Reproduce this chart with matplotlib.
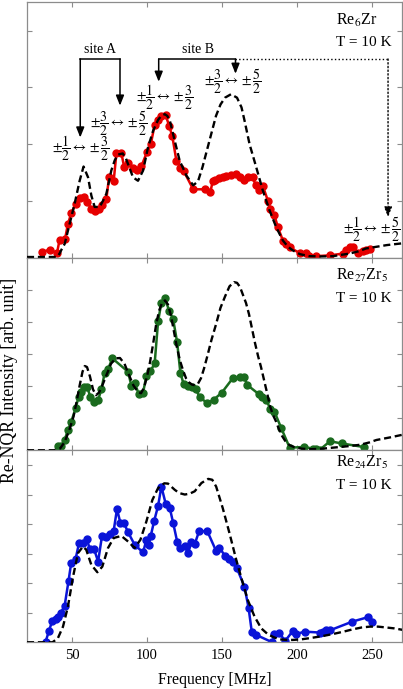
"""Re-NQR spectra of Re6Zr, Re27Zr5 and Re24Zr5 at 10 K, with simulated curves."""

import matplotlib
matplotlib.use("Agg")
import matplotlib.pyplot as plt

plt.rcParams["font.family"] = ["Liberation Serif", "DejaVu Serif"]
plt.rcParams["mathtext.fontset"] = "stix"

# ---- Re6Zr (top) ----
freq_re6 = [30.0, 35.0, 40.0, 41.7, 45.3, 47.3, 49.5, 52.4, 55.1, 57.7,
            60.2, 62.7, 65.1, 68.0, 70.2, 72.9, 74.7, 77.8, 79.6, 82.9,
            84.7, 87.4, 90.7, 93.6, 96.3, 100.1, 102.5, 105.1, 107.4, 109.6,
            112.5, 114.7, 116.9, 119.6, 122.3, 124.5, 130.8, 139.0, 142.3, 143.9,
            145.5, 147.9, 150.5, 152.8, 156.1, 159.5, 162.1, 164.6, 167.2, 170.6,
            172.4, 175.0, 177.2, 180.6, 182.2, 185.0, 187.3, 190.6, 192.9, 195.1,
            201.7, 206.2, 207.7, 212.9, 222.2, 230.6, 232.4, 235.1, 237.3, 240.7,
            244.0, 246.3, 248.5]
int_re6 = [0.105, 0.15, 0.09, 0.32, 0.33, 0.60, 0.79, 0.95, 1.06, 1.07,
           0.99, 0.87, 0.82, 0.87, 0.94, 1.04, 1.42, 1.36, 1.84, 1.85,
           1.61, 1.68, 1.59, 1.55, 1.62, 1.87, 2.00, 2.34, 2.42, 2.50,
           2.51, 2.33, 2.14, 1.71, 1.59, 1.53, 1.21, 1.21, 1.17, 1.36,
           1.38, 1.40, 1.42, 1.44, 1.46, 1.47, 1.42, 1.38, 1.42, 1.42,
           1.28, 1.20, 1.27, 1.01, 0.87, 0.75, 0.54, 0.31, 0.25, 0.19,
           0.09, 0.09, 0.03, 0.035, 0.05, 0.08, 0.135, 0.19, 0.19, 0.09,
           0.12, 0.15, 0.16]
sim_f_re6 = [20, 40, 41.7, 43, 45.1, 48.4, 51.7, 55.1, 57.7, 60.7,
             62.9, 65.1, 68.4, 70.5, 72.9, 76.2, 78.5, 80.7, 83.8, 86,
             87.4, 90.7, 94, 97.4, 100.7, 104.1, 107.4, 109.5, 111.8, 113.5,
             115.2, 118.5, 121.8, 126.3, 130.8, 134, 137, 140, 143, 146,
             149, 152, 156, 160, 163, 165, 168.4, 172.8, 177.2, 181.7,
             186.2, 190.6, 194, 197.3, 202, 208, 216, 224, 230, 235,
             241, 246, 253, 260, 270]
sim_i_re6 = [0.02, 0.02, 0.08, 0.15, 0.25, 0.6, 0.95, 1.36, 1.61, 1.42,
             1.1, 0.9, 0.9, 1.0, 1.13, 1.54, 1.72, 1.82, 1.84, 1.75,
             1.65, 1.42, 1.36, 1.54, 1.95, 2.24, 2.43, 2.5, 2.53, 2.5,
             2.42, 2.06, 1.71, 1.45, 1.28, 1.35, 1.6, 1.9, 2.2, 2.5,
             2.7, 2.82, 2.88, 2.82, 2.65, 2.42, 2.0, 1.6, 1.19, 0.84,
             0.54, 0.31, 0.2, 0.135, 0.07, 0.035, 0.03, 0.035, 0.06, 0.08,
             0.12, 0.17, 0.2, 0.23, 0.26]

# ---- Re27Zr5 (middle) ----
freq_re27 = [40.4, 42.7, 45.1, 47.3, 49.5, 52.4, 54.4, 55.8, 57.7, 60.0,
             62.2, 64.7, 67.4, 69.6, 71.8, 74.0, 76.9, 87.4, 89.6, 91.8,
             94.5, 97.4, 99.6, 102.3, 105.1, 107.4, 109.6, 112.1, 114.7, 117.4,
             120.1, 122.3, 124.5, 127.4, 130.1, 132.5, 135.2, 140.3, 144.5, 149.9,
             157.2, 162.1, 164.6, 166.8, 174.6, 176.8, 179.5, 182.2, 185.0, 189.5,
             195.1, 204.8, 210.6, 212.4, 215.1, 222.0, 230.0, 244.5]
int_re27 = [0.13, 0.12, 0.32, 0.63, 0.89, 1.31, 1.67, 1.83, 1.99, 1.99,
            1.67, 1.50, 1.57, 1.90, 2.42, 2.53, 2.87, 2.45, 2.01, 2.11,
            1.75, 1.80, 2.33, 2.47, 2.71, 4.03, 4.61, 4.74, 4.36, 4.10,
            3.37, 2.40, 2.06, 2.02, 1.96, 1.91, 1.65, 1.47, 1.58, 1.80,
            2.25, 2.30, 2.30, 2.04, 1.75, 1.67, 1.58, 1.29, 1.20, 0.69,
            0.08, 0.10, 0.05, 0.05, 0.01, 0.28, 0.21, 0.10]
sim_f_re27 = [20, 38, 42, 45, 48, 51, 53, 55, 57, 58.5,
              60, 62, 64, 66, 68, 70, 73, 76, 79, 82,
              85, 88, 91, 94, 96, 98, 100, 102, 104, 106,
              108, 110, 112, 114, 116, 118, 120, 122, 124, 126,
              128, 130, 132, 134, 136, 138, 140, 143, 146, 149,
              152, 155, 158, 160, 162, 164, 166, 168, 170, 172,
              174, 176, 178, 180, 182, 184, 186, 188, 190, 192,
              195, 198, 203, 208, 215, 224, 235, 242, 248, 253,
              262, 270]
sim_i_re27 = [0, 0, 0.05, 0.25, 0.6, 1.05, 1.5, 2.0, 2.45, 2.63,
              2.6, 2.3, 1.9, 1.72, 1.8, 2.0, 2.35, 2.7, 2.87, 2.88,
              2.7, 2.35, 2.02, 1.82, 1.78, 1.95, 2.3, 2.75, 3.3, 3.9,
              4.35, 4.6, 4.68, 4.55, 4.2, 3.7, 3.2, 2.8, 2.5, 2.25,
              2.12, 2.05, 2.03, 2.08, 2.25, 2.55, 2.9, 3.45, 3.93, 4.45,
              4.8, 5.12, 5.25, 5.23, 5.1, 4.85, 4.6, 4.25, 3.8, 3.35,
              2.95, 2.6, 2.2, 1.8, 1.38, 1.1, 0.9, 0.65, 0.45, 0.3,
              0.16, 0.1, 0.05, 0.03, 0.04, 0.08, 0.13, 0.17, 0.24, 0.32,
              0.4, 0.48]

# ---- Re24Zr5 (bottom) ----
freq_re24 = [32.4, 34.6, 36.8, 39.1, 40.5, 42.4, 45.1, 47.7, 49.5, 52.4,
             54.7, 57.3, 60.0, 61.8, 64.7, 67.4, 70.0, 72.9, 75.1, 77.8,
             80.0, 82.2, 84.7, 87.4, 91.8, 97.4, 99.6, 101.1, 102.5, 104.7,
             107.4, 109.6, 112.5, 115.2, 117.4, 120.1, 122.3, 125.2, 127.4, 129.6,
             131.8, 134.8, 140.3, 146.0, 148.2, 152.1, 155.0, 157.2, 159.9, 165.0,
             167.7, 169.9, 172.8, 183.5, 185.0, 187.7, 192.2, 197.3, 199.5, 205.1,
             215.1, 217.3, 219.6, 222.2, 236.9, 247.3, 250.0]
int_re24 = [0.02, 0.38, 0.72, 0.78, 0.85, 0.98, 1.24, 2.08, 2.70, 2.82,
            3.36, 3.36, 3.50, 3.15, 3.16, 2.73, 3.60, 3.56, 3.67, 3.78,
            4.51, 4.05, 4.03, 3.72, 3.30, 3.04, 3.47, 3.30, 3.60, 4.09,
            4.62, 5.27, 4.68, 4.54, 4.05, 3.41, 3.19, 3.27, 3.02, 3.38,
            3.32, 3.77, 3.75, 3.10, 3.19, 2.93, 2.82, 2.73, 2.51, 1.88,
            1.17, 0.34, 0.25, 0.0, 0.27, 0.33, 0.05, 0.39, 0.28, 0.36,
            0.33, 0.35, 0.41, 0.41, 0.70, 0.85, 0.68]
sim_f_re24 = [20, 37, 40.6, 44, 47.3, 50.7, 54, 57.3, 59.5, 62.9,
              66.9, 70.2, 74, 77.8, 82.9, 87.4, 91.8, 95.6, 99.6, 103.6,
              107.4, 111.5, 114, 118.5, 121.5, 125.2, 128.5, 131.8, 136.3, 140.8,
              143.5, 146.1, 150.5, 155, 159.5, 163.9, 167.2, 171.7, 176.2, 180.6,
              184.5, 188.4, 193, 197.3, 203, 208.4, 216, 224, 231, 237.3,
              243, 248.5, 254, 259.6, 265, 270.5]
sim_i_re24 = [0.0, 0.0, 0.14, 0.53, 1.21, 2.22, 3.02, 3.24, 3.13, 2.62,
              2.37, 2.56, 3.19, 3.53, 3.60, 3.41, 3.19, 3.47, 4.09, 4.82,
              5.22, 5.38, 5.37, 5.16, 5.05, 5.0, 5.03, 5.11, 5.39, 5.53,
              5.5, 5.27, 4.54, 3.69, 2.79, 2.0, 1.43, 0.87, 0.47, 0.27,
              0.17, 0.10, 0.08, 0.08, 0.1, 0.14, 0.2, 0.28, 0.36, 0.44,
              0.5, 0.53, 0.53, 0.50, 0.47, 0.42]

panels = [
    (freq_re6, int_re6, sim_f_re6, sim_i_re6, "#e60000", 4.5, [1, 2, 3, 4],
     "Re$_6$Zr", 0.910, 0.829),
    (freq_re27, int_re27, sim_f_re27, sim_i_re27, "#1a6b1e", 6.0, [1, 2, 3, 4, 5],
     "Re$_{27}$Zr$_5$", 0.885, 0.772),
    (freq_re24, int_re24, sim_f_re24, sim_i_re24, "#0a14d8", 6.5, [1, 2, 3, 4, 5, 6],
     "Re$_{24}$Zr$_5$", 0.911, 0.797),
]

FRAME = "#8c8c8c"

fig = plt.figure(figsize=(4.03, 6.89), dpi=100)
gs = fig.add_gridspec(3, 1, height_ratios=[4, 3, 3], hspace=0,
                      left=0.067, right=0.9975, top=0.997, bottom=0.0678)
axes = []
for i, (fx, iy, sx, sy, col, ytop, yt, name, yn, yT) in enumerate(panels):
    ax = fig.add_subplot(gs[i])
    ax.plot(fx, iy, "-o", color=col, lw=1.8, ms=5.0, zorder=2)
    ax.plot(sx, sy, color="k", lw=1.7, linestyle=(0, (3, 1.6)), zorder=3)
    ax.set_xlim(20, 270)
    ax.set_ylim(0, ytop)
    ax.set_xticks([50, 100, 150, 200, 250])
    ax.set_yticks(yt)
    ax.tick_params(direction="in", top=True, right=True, length=3.5, width=0.8,
                   color=FRAME, labelleft=False, labelbottom=(i == 2),
                   labelsize=10.5, pad=5)
    for sp in ax.spines.values():
        sp.set_color(FRAME)
        sp.set_linewidth(0.9)
    ax.text(0.824, yn, name, transform=ax.transAxes, fontsize=11.5, va="baseline")
    ax.text(0.824, yT, "T = 10 K", transform=ax.transAxes, fontsize=11, va="baseline")
    axes.append(ax)

axes[2].set_xlabel("Frequency [MHz]", fontsize=11.3, labelpad=7)
fig.text(0.024, 0.448, "Re-NQR Intensity [arb. unit]", rotation=90,
         fontsize=12.8, ha="center", va="center")

# ---- site annotations on top panel ----
ax = axes[0]
arr = dict(arrowstyle="-|>,head_length=0.55,head_width=0.22", color="k",
           lw=1.1, shrinkA=0, shrinkB=0, mutation_scale=11)
ax.plot([55.5, 82.0], [3.5, 3.5], color="k", lw=1.1)
ax.annotate("", xy=(55.5, 2.12), xytext=(55.5, 3.5), arrowprops=arr)
ax.annotate("", xy=(82.0, 2.68), xytext=(82.0, 3.5), arrowprops=arr)
ax.text(68.7, 3.55, "site A", ha="center", va="bottom", fontsize=10)

ax.plot([107.8, 159.0], [3.5, 3.5], color="k", lw=1.1)
ax.annotate("", xy=(107.8, 3.10), xytext=(107.8, 3.5), arrowprops=arr)
ax.annotate("", xy=(159.0, 3.24), xytext=(159.0, 3.5), arrowprops=arr)
ax.text(134.0, 3.55, "site B", ha="center", va="bottom", fontsize=10)

ax.plot([159.0, 260.7], [3.5, 3.5], color="k", lw=1.0, linestyle=":")
dot = dict(arr, lw=1.0, linestyle=":")
ax.annotate("", xy=(260.7, 0.72), xytext=(260.7, 3.5), arrowprops=dot)

lbl = dict(ha="center", va="center", fontsize=10)
ax.text(55.5, 1.93, r"$\pm\dfrac{1}{2}\leftrightarrow\pm\dfrac{3}{2}$", **lbl)
ax.text(81.1, 2.37, r"$\pm\dfrac{3}{2}\leftrightarrow\pm\dfrac{5}{2}$", **lbl)
ax.text(111.6, 2.82, r"$\pm\dfrac{1}{2}\leftrightarrow\pm\dfrac{3}{2}$", **lbl)
ax.text(157.2, 3.10, r"$\pm\dfrac{3}{2}\leftrightarrow\pm\dfrac{5}{2}$", **lbl)
ax.text(250.0, 0.50, r"$\pm\dfrac{1}{2}\leftrightarrow\pm\dfrac{5}{2}$",
        clip_on=False, **lbl)

fig.savefig("out.png", dpi=100)
